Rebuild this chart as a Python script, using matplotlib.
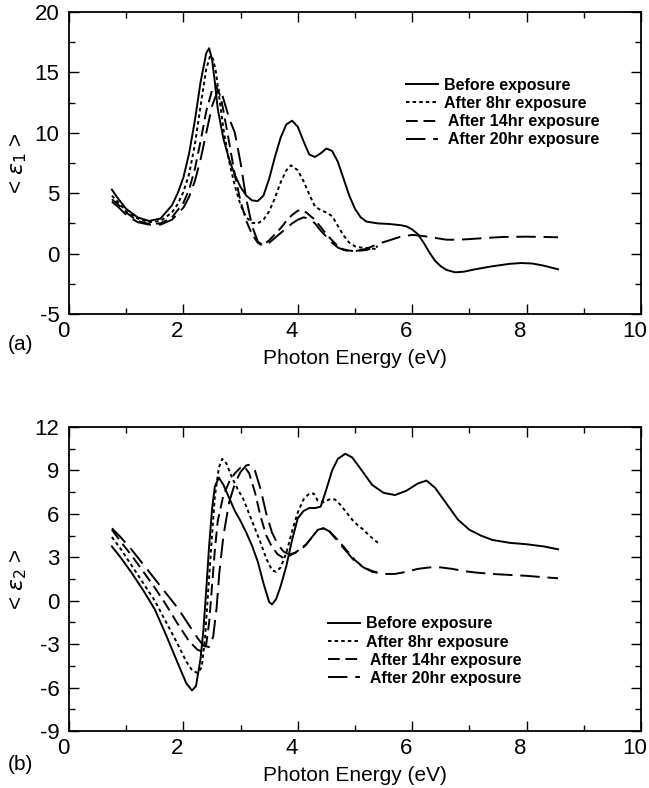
import matplotlib
matplotlib.use("Agg")
import matplotlib.pyplot as plt
from matplotlib.ticker import MultipleLocator
from matplotlib.transforms import ScaledTranslation

plt.rcParams['font.family'] = ['Liberation Sans', 'DejaVu Sans']
plt.rcParams['axes.unicode_minus'] = False

labels = ["Before exposure", "After 8hr exposure", " After 14hr exposure", " After 20hr exposure"]

# ---------- panel (a): <eps1> ----------
a_before_x = [0.75, 0.85, 1.0, 1.2, 1.4, 1.6, 1.8, 1.9, 2.0, 2.1, 2.2, 2.3, 2.4, 2.45, 2.5, 2.55, 2.6, 2.7, 2.8, 2.9,
              3.0, 3.1, 3.2, 3.3, 3.4, 3.5, 3.6, 3.7, 3.8, 3.9, 4.0, 4.1, 4.2, 4.3, 4.4, 4.5, 4.6, 4.7, 4.8, 4.9,
              5.0, 5.1, 5.2, 5.4, 5.6, 5.8, 5.9, 6.0, 6.1, 6.2, 6.3, 6.4, 6.5, 6.6, 6.75, 6.9, 7.1, 7.4, 7.7, 7.9,
              8.1, 8.3, 8.55]
a_before_y = [5.3, 4.6, 3.7, 3.0, 2.7, 2.9, 4.0, 5.0, 6.3, 8.3, 11.0, 14.2, 16.6, 17.0, 16.1, 14.2, 12.0, 9.5, 7.8, 6.5,
              5.5, 4.8, 4.4, 4.35, 4.8, 6.2, 8.0, 9.6, 10.7, 11.0, 10.5, 9.3, 8.2, 8.0, 8.3, 8.7, 8.5, 7.6, 6.2, 4.8,
              3.7, 3.0, 2.65, 2.5, 2.45, 2.35, 2.25, 2.0, 1.6, 0.9, 0.1, -0.6, -1.05, -1.35, -1.55, -1.5, -1.3, -1.05, -0.85, -0.78,
              -0.82, -1.0, -1.3]

a_8hr_x = [0.75, 0.85, 1.0, 1.2, 1.4, 1.6, 1.8, 1.9, 2.0, 2.1, 2.2, 2.3, 2.4, 2.47, 2.52, 2.57, 2.62, 2.7, 2.8, 2.9,
           3.0, 3.1, 3.2, 3.3, 3.4, 3.5, 3.6, 3.7, 3.8, 3.88, 4.0, 4.1, 4.2, 4.3, 4.4, 4.5, 4.6, 4.7, 4.8, 4.9,
           5.0, 5.1, 5.25, 5.4]
a_8hr_y = [4.8, 4.3, 3.5, 2.9, 2.6, 2.7, 3.4, 4.1, 5.1, 6.6, 9.0, 12.2, 15.3, 16.4, 16.1, 15.0, 13.2, 10.3, 7.6, 5.6,
           4.0, 3.0, 2.55, 2.5, 2.8, 3.5, 4.6, 5.9, 6.9, 7.3, 6.9, 6.0, 4.9, 3.9, 3.6, 3.4, 3.1, 2.3, 1.5, 0.9,
           0.6, 0.5, 0.45, 0.35]

a_14hr_x = [0.75, 0.85, 1.0, 1.2, 1.4, 1.6, 1.8, 2.0, 2.1, 2.2, 2.3, 2.4, 2.5, 2.57, 2.65, 2.7, 2.8, 2.9, 3.0, 3.1,
            3.2, 3.3, 3.38, 3.5, 3.6, 3.7, 3.8, 3.9, 4.0, 4.05, 4.15, 4.3, 4.4, 4.5, 4.6, 4.7, 4.8, 4.9, 5.0, 5.2, 5.4]
a_14hr_y = [4.5, 4.1, 3.4, 2.7, 2.45, 2.5, 3.0, 4.2, 5.3, 7.0, 9.3, 11.8, 13.5, 13.9, 13.0, 11.8, 9.2, 6.5, 4.3, 2.7,
            1.6, 0.9, 0.65, 1.1, 1.6, 2.1, 2.7, 3.2, 3.55, 3.6, 3.4, 2.8, 2.2, 1.6, 1.1, 0.6, 0.35, 0.25, 0.2, 0.3, 0.6]

a_20hr_x = [0.75, 0.85, 1.0, 1.2, 1.4, 1.6, 1.8, 2.0, 2.1, 2.2, 2.3, 2.4, 2.5, 2.6, 2.65, 2.7, 2.8, 2.9, 3.0, 3.1,
            3.2, 3.3, 3.4, 3.5, 3.6, 3.7, 3.8, 3.9, 4.0, 4.1, 4.2, 4.3, 4.4, 4.5, 4.6, 4.7, 4.8, 4.9, 5.0, 5.2,
            5.4, 5.6, 5.8, 6.0, 6.2, 6.4, 6.6, 6.8, 7.0, 7.3, 7.6, 8.0, 8.3, 8.55]
a_20hr_y = [4.3, 3.9, 3.2, 2.6, 2.4, 2.4, 2.8, 3.8, 4.7, 6.0, 7.8, 10.0, 12.2, 13.5, 13.6, 12.8, 11.2, 10.0, 7.5, 4.5,
            2.3, 1.0, 0.65, 0.9, 1.3, 1.7, 2.1, 2.5, 2.8, 3.0, 2.9, 2.5, 1.9, 1.4, 0.9, 0.5, 0.3, 0.2, 0.2, 0.4,
            0.8, 1.1, 1.4, 1.55, 1.45, 1.3, 1.15, 1.15, 1.2, 1.3, 1.38, 1.4, 1.38, 1.35]

# ---------- panel (b): <eps2> ----------
b_before_x = [0.75, 0.9, 1.1, 1.3, 1.5, 1.7, 1.9, 2.05, 2.15, 2.22, 2.3, 2.35, 2.4, 2.45, 2.5, 2.55, 2.62, 2.7, 2.8, 2.9,
              3.0, 3.1, 3.2, 3.3, 3.4, 3.5, 3.55, 3.62, 3.7, 3.8, 3.9, 4.0, 4.1, 4.2, 4.3, 4.4, 4.5, 4.6, 4.7, 4.83,
              4.95, 5.1, 5.3, 5.5, 5.7, 5.9, 6.1, 6.25, 6.4, 6.6, 6.8, 7.0, 7.2, 7.4, 7.7, 8.0, 8.3, 8.55]
b_before_y = [3.75, 3.0, 1.9, 0.7, -0.6, -2.4, -4.3, -5.7, -6.2, -5.9, -4.0, -2.0, 0.8, 3.8, 6.3, 7.9, 8.5, 8.0, 7.1, 6.2,
              5.5, 4.7, 3.8, 2.7, 1.2, -0.1, -0.25, 0.1, 1.0, 2.4, 4.2, 5.7, 6.2, 6.4, 6.4, 6.5, 7.7, 9.0, 9.8, 10.15,
              9.9, 9.1, 8.0, 7.45, 7.3, 7.6, 8.1, 8.3, 7.8, 6.7, 5.6, 4.9, 4.5, 4.2, 4.0, 3.9, 3.75, 3.55]

b_8hr_x = [0.75, 0.9, 1.1, 1.3, 1.5, 1.7, 1.9, 2.05, 2.15, 2.25, 2.32, 2.38, 2.43, 2.5, 2.55, 2.62, 2.68, 2.75, 2.85, 2.95,
           3.05, 3.15, 3.25, 3.35, 3.45, 3.55, 3.62, 3.7, 3.8, 3.9, 4.0, 4.1, 4.2, 4.28, 4.35, 4.45, 4.55, 4.65, 4.75, 4.85,
           4.95, 5.05, 5.15, 5.25, 5.4]
b_8hr_y = [4.4, 3.6, 2.4, 1.2, 0.0, -1.5, -3.0, -4.2, -4.8, -5.0, -4.6, -2.5, 0.5, 4.5, 7.2, 9.2, 9.8, 9.5, 8.5, 7.7,
           7.0, 6.0, 5.0, 4.0, 2.9, 2.1, 2.0, 2.3, 3.3, 4.8, 6.1, 7.0, 7.4, 7.4, 6.9, 6.8, 7.0, 7.0, 6.6, 6.1,
           5.6, 5.2, 4.9, 4.5, 4.0]

b_14hr_x = [0.75, 0.9, 1.1, 1.3, 1.5, 1.7, 1.9, 2.1, 2.25, 2.33, 2.4, 2.45, 2.5, 2.55, 2.6, 2.7, 2.8, 2.9, 3.0, 3.07,
            3.15, 3.25, 3.35, 3.45, 3.55, 3.65, 3.75, 3.85, 3.95, 4.05, 4.15, 4.25, 4.35, 4.45, 4.55, 4.7, 4.85, 5.0, 5.15, 5.3,
            5.4]
b_14hr_y = [4.9, 4.1, 3.1, 2.0, 0.9, -0.3, -1.6, -2.8, -3.4, -3.5, -3.0, -1.5, 1.0, 3.5, 5.5, 7.3, 8.2, 8.8, 9.2, 9.25,
            8.8, 7.5, 5.8, 4.5, 3.7, 3.2, 2.95, 3.1, 3.3, 3.6, 3.9, 4.4, 4.9, 5.0, 4.8, 4.2, 3.5, 2.8, 2.3, 2.05,
            1.95]

b_20hr_x = [0.75, 0.9, 1.1, 1.3, 1.5, 1.7, 1.9, 2.1, 2.25, 2.35, 2.45, 2.52, 2.58, 2.63, 2.7, 2.8, 2.9, 3.0, 3.1, 3.17,
            3.25, 3.35, 3.45, 3.55, 3.65, 3.75, 3.85, 3.95, 4.05, 4.15, 4.25, 4.35, 4.45, 4.55, 4.7, 4.85, 5.0, 5.15, 5.3, 5.5,
            5.7, 5.9, 6.1, 6.3, 6.5, 6.7, 6.9, 7.1, 7.4, 7.7, 8.0, 8.3, 8.55]
b_20hr_y = [5.0, 4.4, 3.5, 2.5, 1.5, 0.5, -0.5, -1.7, -2.6, -3.1, -3.2, -2.5, -0.5, 2.0, 4.5, 6.8, 8.1, 8.9, 9.35, 9.4,
            9.0, 7.7, 6.0, 4.7, 3.9, 3.4, 3.2, 3.3, 3.5, 3.9, 4.4, 4.9, 5.0, 4.8, 4.1, 3.4, 2.7, 2.3, 2.0, 1.85,
            1.85, 2.0, 2.2, 2.3, 2.3, 2.2, 2.05, 1.95, 1.85, 1.78, 1.72, 1.62, 1.55]

styles = [
    dict(color='black', lw=1.4, linestyle='-'),
    dict(color='black', lw=1.4, linestyle=(0, (1.8, 1.6))),
    dict(color='black', lw=1.4, linestyle=(0, (6, 3))),
    dict(color='black', lw=1.4, linestyle=(0, (10, 4))),
]

fig = plt.figure(figsize=(6.49, 7.88), dpi=100)
ax1 = fig.add_axes([69/649, 1-314/788, 572/649, 302/788])
ax2 = fig.add_axes([69/649, 1-731/788, 572/649, 304/788])

for (xs, ys), lab, st in zip([(a_before_x, a_before_y), (a_8hr_x, a_8hr_y), (a_14hr_x, a_14hr_y), (a_20hr_x, a_20hr_y)], labels, styles):
    ax1.plot(xs, ys, label=lab, **st)
for (xs, ys), lab, st in zip([(b_before_x, b_before_y), (b_8hr_x, b_8hr_y), (b_14hr_x, b_14hr_y), (b_20hr_x, b_20hr_y)], labels, styles):
    ax2.plot(xs, ys, label=lab, **st)

ax1.set_xlim(0, 10)
ax1.set_ylim(-5, 20)
ax1.yaxis.set_major_locator(MultipleLocator(5))
ax1.yaxis.set_minor_locator(MultipleLocator(2.5))
ax2.set_xlim(0, 10)
ax2.set_ylim(-9, 12)
ax2.yaxis.set_major_locator(MultipleLocator(3))
ax2.yaxis.set_minor_locator(MultipleLocator(1.5))

shift = ScaledTranslation(-6/100, 0, fig.dpi_scale_trans)
for ax in (ax1, ax2):
    ax.xaxis.set_major_locator(MultipleLocator(2))
    ax.xaxis.set_minor_locator(MultipleLocator(1))
    ax.tick_params(which='both', direction='in', top=True, right=True, labelsize=16, width=1.0)
    ax.tick_params(which='major', length=7)
    ax.tick_params(axis='x', which='major', pad=5)
    ax.tick_params(axis='y', which='major', pad=7)
    ax.tick_params(which='minor', length=4)
    for s in ax.spines.values():
        s.set_linewidth(1.3)
    ax.set_xlabel("Photon Energy (eV)", fontsize=15, labelpad=5)
    for t in ax.xaxis.get_major_ticks(numticks=6):
        t.label1.set_transform(t.label1.get_transform() + shift)

ax1.set_ylabel(r"< $\varepsilon_1$ >", fontsize=16, labelpad=4)
ax2.set_ylabel(r"< $\varepsilon_2$ >", fontsize=16, labelpad=4)

fig.text(8/649, 1-345/788, "(a)", fontsize=15, va='center', ha='left')
fig.text(8/649, 1-765/788, "(b)", fontsize=15, va='center', ha='left')

leg_kw = dict(frameon=False, handlelength=2.0, handletextpad=0.35, labelspacing=0.2,
              borderpad=0, borderaxespad=0, prop={'weight': 'bold', 'size': 11.5})
ax1.legend(loc='upper left', bbox_to_anchor=(0.59, 0.782), **leg_kw)
ax2.legend(loc='upper left', bbox_to_anchor=(0.453, 0.377), **leg_kw)

fig.savefig("out.png", dpi=100)
